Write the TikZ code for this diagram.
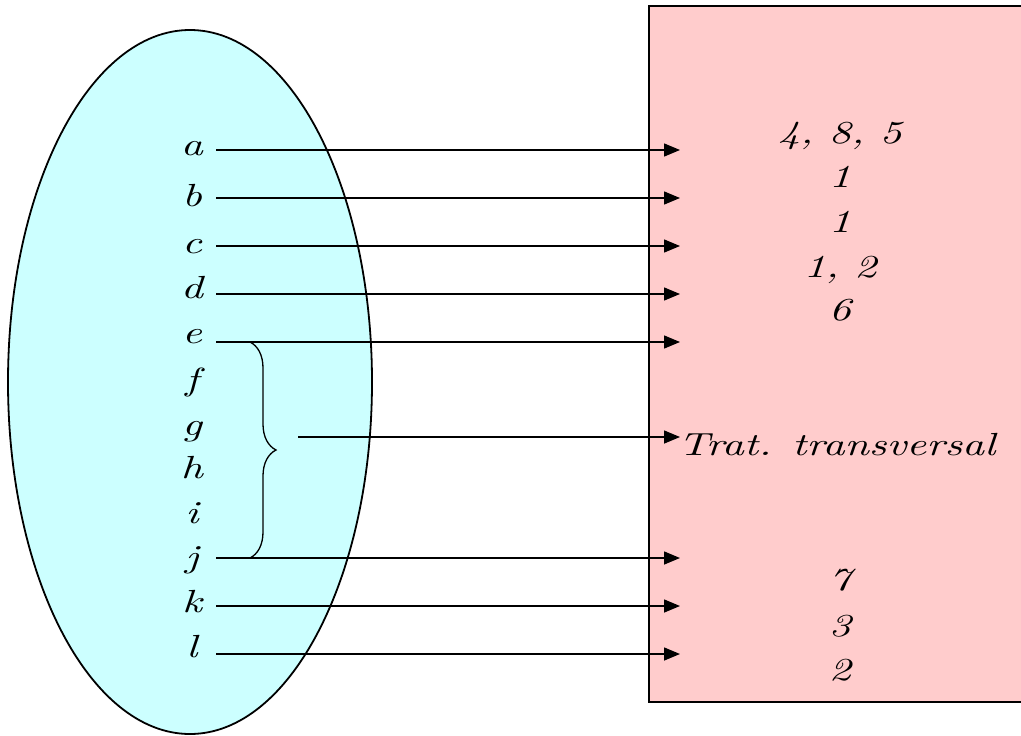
\documentclass[tikz,border=0pt]{standalone}
\usepackage{fontspec}
\newfontfamily\hand[FakeStretch=1.35]{lmroman10-italic.otf}
\usetikzlibrary{arrows.meta,decorations.pathreplacing}
\definecolor{setblue}{RGB}{204,255,255}
\definecolor{setpink}{RGB}{255,204,204}
\tikzset{
  map/.style={-{Triangle[length=16pt,width=13pt]}, line width=1.5pt},
  elt/.style={anchor=base, inner sep=0pt, font=\hand\fontsize{32}{38}\selectfont},
}
\begin{document}
\begin{tikzpicture}[x=1pt,y=-1pt] %[scale=0.8]
  \useasboundingbox (0,0) rectangle (1021,736);
  \draw [fill=setpink, line width=2.2pt] (649,6) rectangle (1030,702);
  \draw [fill=setblue, line width=1.8pt] (190,382) ellipse [x radius=182pt, y radius=352pt];
  % domain
  \node [elt] (a) at (192,155) {a};
  \node [elt] (b) at (192,206) {b};
  \node [elt] (c) at (192,253) {c};
  \node [elt] (d) at (192,298) {d};
  \node [elt] (e) at (192,343) {e};
  \node [elt] (f) at (192,390) {f};
  \node [elt] (g) at (192,435) {g};
  \node [elt] (h) at (192,478) {h};
  \node [elt] (i) at (192,523) {i};
  \node [elt] (j) at (192,567) {j};
  \node [elt] (k) at (192,612) {k};
  \node [elt] (l) at (192,657) {l};
  % images
  \node [elt] (ia) at (840,143) {4, 8, 5};
  \node [elt] (ib) at (840,187) {1};
  \node [elt] (ic) at (840,232) {1};
  \node [elt] (id) at (840,277) {1, 2};
  \node [elt] (ie) at (840,320) {6};
  \node [elt, anchor=base west] (tt) at (678,455) {Trat. transversal};
  \node [elt] (ik) at (840,590) {7};
  \node [elt] (il) at (840,636) {3};
  \node [elt] (im) at (840,680) {2};
  % arrow ends
  \coordinate (a0) at (216,150); \coordinate (a1) at (680,150);
  \coordinate (b0) at (216,198); \coordinate (b1) at (680,198);
  \coordinate (c0) at (216,246); \coordinate (c1) at (680,246);
  \coordinate (d0) at (216,294); \coordinate (d1) at (680,294);
  \coordinate (e0) at (216,342); \coordinate (e1) at (680,342);
  \coordinate (g0) at (298,437); \coordinate (g1) at (680,437);
  \coordinate (j0) at (216,558); \coordinate (j1) at (680,558);
  \coordinate (k0) at (216,606); \coordinate (k1) at (680,606);
  \coordinate (l0) at (216,654); \coordinate (l1) at (680,654);
  \coordinate (br0) at (250,342); \coordinate (br1) at (250,558);
  \draw [map] (a0) -- (a1);
  \draw [map] (b0) -- (b1);
  \draw [map] (c0) -- (c1);
  \draw [map] (d0) -- (d1);
  \draw [map] (e0) -- (e1);
  \draw [map] (g0) -- (g1);
  \draw [map] (j0) -- (j1);
  \draw [map] (k0) -- (k1);
  \draw [map] (l0) -- (l1);
  \draw [decorate, decoration={brace, amplitude=26pt}, line width=1.3pt] (br0) -- (br1);
\end{tikzpicture}
\end{document}
